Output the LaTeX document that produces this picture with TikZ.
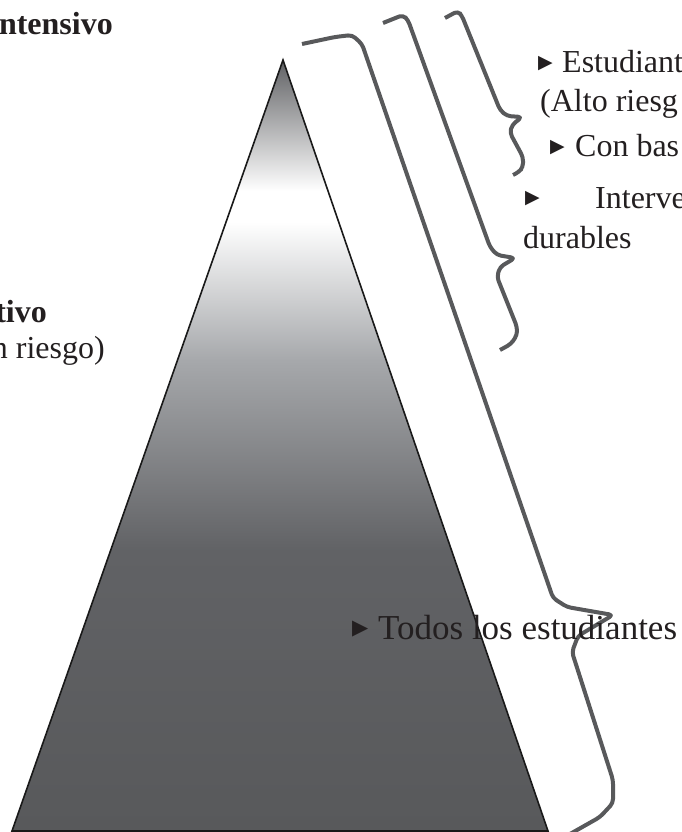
\documentclass[tikz,border=0pt]{standalone}
\usepackage{fontspec}
\setmainfont{Liberation Serif}
\newfontfamily\symfont{DejaVu Sans}
\definecolor{ctop}{HTML}{606164}
\definecolor{clow}{HTML}{A6A8AB}
\definecolor{cmid}{HTML}{616265}
\definecolor{cbot}{HTML}{58595B}
\definecolor{brk}{HTML}{58595B}
\definecolor{txt}{HTML}{231F20}
\pgfdeclareverticalshading{pyrshade}{100bp}{color(0bp)=(cbot); color(25bp)=(cbot); color(43.2bp)=(cmid); color(55.5bp)=(clow); color(64.5bp)=(white); color(66.5bp)=(white); color(75bp)=(ctop); color(100bp)=(ctop)}
\newcommand\tri[2]{\makebox[#1][l]{\raisebox{4.5pt}{\symfont\fontsize{#2}{#2}\selectfont ▶}}}
\begin{document}
\begin{tikzpicture}[x=1pt,y=-1pt,
  lbl/.style={inner sep=0pt, text=txt, font=\fontsize{32}{38}\selectfont},
  brace/.style={draw=brk, line width=4pt, rounded corners=4pt, line join=round}]
\useasboundingbox (0,0) rectangle (682,832);
\clip (0,0) rectangle (682,832);
% pyramid
\coordinate (apex) at (283,60);
\coordinate (bl) at (12,831);
\coordinate (br) at (548,831);
\path[shading=pyrshade] (apex) -- (br) -- (bl) -- cycle;
\draw[line width=1.6pt, line join=miter, color=black!90] (apex) -- (br) -- (bl) -- cycle;
% braces
\draw[brace] (302,44) -- (335,37) -- (352,35) -- (362,44) -- (553,598) -- (567,607) -- (613,615) -- (578,636) -- (572,652) -- (613,780) -- (613,803) -- (600,817) -- (570,834);
\draw[brace] (383,23) -- (403,15) -- (408,20) -- (490,247) -- (497,255) -- (515,258) -- (500,267) -- (497,277) -- (517,327) -- (517,335) -- (511,344) -- (500,350);
\draw[brace] (445,18) -- (458,11) -- (462,16) -- (500,110) -- (507,116) -- (522,117) -- (512,125) -- (510,133) -- (523,157) -- (523,167) -- (519,172) -- (513,175);
% texts
\node[lbl, anchor=base east, font=\fontsize{32}{38}\selectfont\bfseries] (l1) at (113,35) {ntensivo};
\node[lbl, anchor=base east, font=\fontsize{32}{38}\selectfont\bfseries] (l2) at (47,322) {tivo};
\node[lbl, anchor=base east] (l3) at (105,358) {n riesgo)};
\node[lbl, anchor=base west] (t1) at (538,73) {\tri{24pt}{19}Estudiant};
\node[lbl, anchor=base west] (t2) at (540,112) {(Alto riesg};
\node[lbl, anchor=base west] (t3) at (550,157) {\tri{25pt}{19}Con bas};
\node[lbl, anchor=base west] (t4) at (525,208) {\tri{70pt}{19}Interve};
\node[lbl, anchor=base west] (t5) at (523,248) {durables};
\node[lbl, anchor=base west, font=\fontsize{35}{40}\selectfont] (t6) at (352,639) {\tri{26pt}{21}Todos los estudiantes};
\end{tikzpicture}
\end{document}
